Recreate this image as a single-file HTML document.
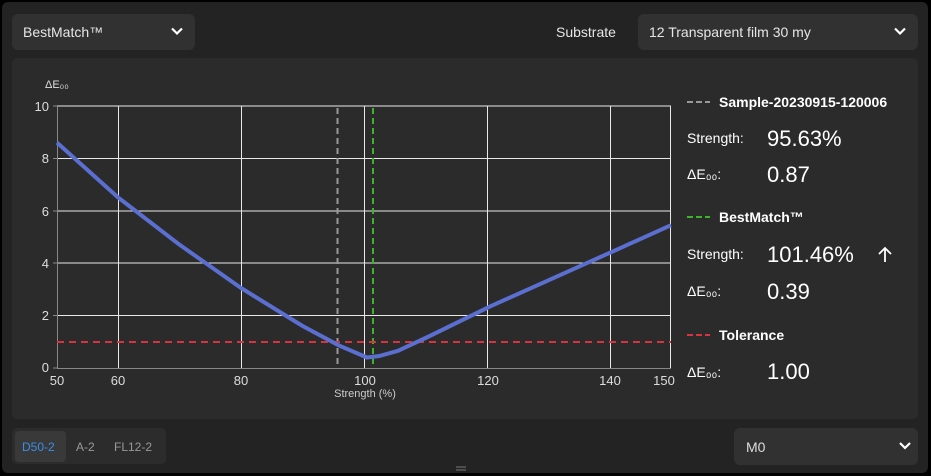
<!DOCTYPE html>
<html><head><style>
*{margin:0;padding:0;box-sizing:border-box}
body{width:931px;height:476px;background:#000;font-family:"Liberation Sans",sans-serif;overflow:hidden;position:relative}
.win{position:absolute;left:2px;top:2px;width:926px;height:471px;background:#232323;border-radius:6px}
.dd{position:absolute;background:#313131;border-radius:6px;color:#e6e6e6;font-size:14px;line-height:36px;padding-left:11px}
.chev{position:absolute;right:12px;top:0;font-size:14px;color:#fff}
.panel{position:absolute;left:12px;top:58px;width:906px;height:361px;background:#2b2b2b;border-radius:5px}
.t{position:absolute;color:#fff;white-space:nowrap}
</style></head><body>
<div class="win"></div>
<div class="dd" style="left:12px;top:14px;width:183px;height:36px">BestMatch™<svg class="chev" style="top:13px" width="12" height="9"><path d="M1 1.5L6 6.5L11 1.5" stroke="#fff" stroke-width="2.2" fill="none"/></svg></div>
<div class="t" style="left:556px;top:24px;font-size:14px;color:#e6e6e6">Substrate</div>
<div class="dd" style="left:638px;top:14px;width:280px;height:36px">12 Transparent film 30 my<svg class="chev" style="top:13px" width="12" height="9"><path d="M1 1.5L6 6.5L11 1.5" stroke="#fff" stroke-width="2.2" fill="none"/></svg></div>
<div class="panel"></div>
<svg style="position:absolute;left:0;top:0" width="931" height="476" font-family="Liberation Sans, sans-serif">
<g stroke="#e8e8e8" stroke-width="1">
<line x1="57" y1="106" x2="671" y2="106"/><line x1="57" y1="158.5" x2="671" y2="158.5"/><line x1="57" y1="211" x2="671" y2="211"/><line x1="57" y1="263" x2="671" y2="263"/><line x1="57" y1="315.5" x2="671" y2="315.5"/>
<line x1="118.5" y1="106" x2="118.5" y2="368"/><line x1="241.5" y1="106" x2="241.5" y2="368"/><line x1="364.5" y1="106" x2="364.5" y2="368"/><line x1="487.5" y1="106" x2="487.5" y2="368"/><line x1="610.5" y1="106" x2="610.5" y2="368"/><line x1="670.5" y1="106" x2="670.5" y2="368"/>
</g>
<g stroke="#888" stroke-width="1"><line x1="57.5" y1="106" x2="57.5" y2="368"/><line x1="57" y1="368.5" x2="671" y2="368.5"/>
<line x1="53" y1="106" x2="57" y2="106"/><line x1="53" y1="158.5" x2="57" y2="158.5"/><line x1="53" y1="211" x2="57" y2="211"/><line x1="53" y1="263" x2="57" y2="263"/><line x1="53" y1="315.5" x2="57" y2="315.5"/><line x1="53" y1="368" x2="57" y2="368"/></g>
<line x1="337.5" y1="108" x2="337.5" y2="368" stroke="#999" stroke-width="2" stroke-dasharray="6,4"/>
<line x1="373" y1="108" x2="373" y2="368" stroke="#3db52a" stroke-width="2" stroke-dasharray="6,4"/>
<line x1="57" y1="342" x2="671" y2="342" stroke="#d9333f" stroke-width="2" stroke-dasharray="7,5"/>
<polyline fill="none" stroke="#5a6fcf" stroke-width="4" stroke-linejoin="round" points="57,142.6 118.4,197.7 179.8,244.9 241.2,288.1 302.6,326 339.4,345.7 367,357.5 379.3,356 398,350.8 428.7,336.5 490.1,306.4 551.5,278.9 612.9,251.4 671,225.2"/>
<g fill="#ddd" font-size="13" text-anchor="end"><text x="49" y="111">10</text><text x="49" y="163">8</text><text x="49" y="216">6</text><text x="49" y="268">4</text><text x="49" y="320">2</text><text x="49" y="372">0</text></g>
<g fill="#ddd" font-size="13" text-anchor="middle"><text x="57" y="385">50</text><text x="118" y="385">60</text><text x="241" y="385">80</text><text x="365" y="385">100</text><text x="488" y="385">120</text><text x="610" y="385">140</text><text x="664" y="385">150</text></g>
<text x="365" y="397" fill="#ccc" font-size="11" text-anchor="middle">Strength (%)</text>
<text x="45" y="88" fill="#ddd" font-size="11">ΔE₀₀</text>
<line x1="687" y1="102" x2="710" y2="102" stroke="#999" stroke-width="2" stroke-dasharray="6,3"/>
<line x1="687" y1="217" x2="710" y2="217" stroke="#3db52a" stroke-width="2" stroke-dasharray="6,3"/>
<line x1="687" y1="335" x2="710" y2="335" stroke="#d9333f" stroke-width="2" stroke-dasharray="6,3"/>
<g fill="#fff"><text x="719" y="107" font-size="14" font-weight="bold">Sample-20230915-120006</text>
<text x="719" y="222" font-size="14" font-weight="bold">BestMatch™</text>
<text x="719" y="340" font-size="14" font-weight="bold">Tolerance</text>
<g font-size="14"><text x="687" y="143">Strength:</text><text x="687" y="179">ΔE₀₀:</text><text x="687" y="259">Strength:</text><text x="687" y="296">ΔE₀₀:</text><text x="687" y="377">ΔE₀₀:</text></g>
<g font-size="22"><text x="767" y="146">95.63%</text><text x="767" y="182">0.87</text><text x="767" y="262">101.46%</text><text x="767" y="299">0.39</text><text x="767" y="379">1.00</text></g></g>
<path d="M885 262V248M879 254L885 248L891 254" stroke="#fff" stroke-width="1.8" fill="none"/>
<rect x="12" y="428" width="154" height="36" rx="5" fill="#2c2c2c"/>
<rect x="15" y="431" width="51" height="31" rx="4" fill="#393939"/>
<g font-size="12"><text x="22" y="451" fill="#3a8ee6">D50-2</text><text x="76" y="451" fill="#999">A-2</text><text x="114" y="451" fill="#999">FL12-2</text></g>
<rect x="734" y="428" width="184" height="37" rx="6" fill="#313131"/>
<text x="746" y="452" fill="#ddd" font-size="14">M0</text>
<path d="M900 443L905 448L910 443" stroke="#fff" stroke-width="2.2" fill="none"/>
<path d="M456 467h10M456 470h10" stroke="#777" stroke-width="1"/>
</svg>
</body></html>
